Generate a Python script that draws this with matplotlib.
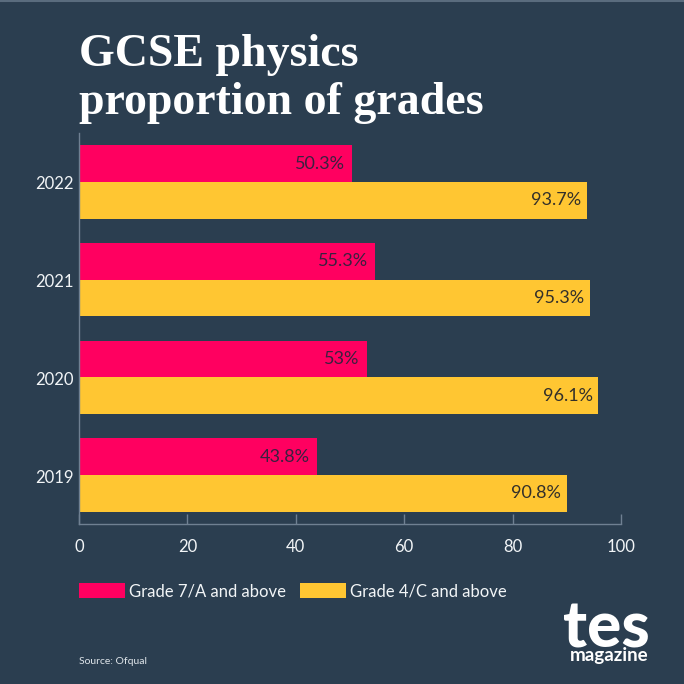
import matplotlib
matplotlib.use('Agg')
import matplotlib.pyplot as plt
from matplotlib.transforms import ScaledTranslation
import numpy as np

# Values (bar lengths differ slightly from printed labels)
years = ['2019', '2020', '2021', '2022']
grade_7a = [43.9, 53.1, 54.6, 50.4]
grade_4c = [90.0, 95.8, 94.3, 93.7]
labels_7a = ['43.8%', '53%', '55.3%', '50.3%']
labels_4c = ['90.8%', '96.1%', '95.3%', '93.7%']
xticks = [0, 20, 40, 60, 80, 100]

bg = '#2b3e50'
pink = '#ff0060'
yellow = '#ffc632'
axis_col = '#6f8092'
dark = '#3a2040'

plt.rcParams['font.family'] = 'Lato'

fig = plt.figure(figsize=(6.84, 6.84), dpi=100, facecolor=bg)
W = H = 684
# axes box in pixels: x 79-621, y 133-524
ax = fig.add_axes([79 / W, 1 - 524 / H, (621 - 79) / W, (524 - 133) / H], facecolor=bg)

y = np.arange(len(years))
h = 0.375
bars_a = ax.barh(y + h / 2, grade_7a, h, color=pink, label='Grade 7/A and above')
bars_c = ax.barh(y - h / 2, grade_4c, h, color=yellow, label='Grade 4/C and above')

for bar, txt in zip(bars_a, labels_7a):
    ax.annotate(txt, (bar.get_width(), bar.get_y() + bar.get_height() / 2), xytext=(-5, 0),
                textcoords='offset points', ha='right', va='center', fontsize=13, color=dark)
for bar, txt in zip(bars_c, labels_4c):
    ax.annotate(txt, (bar.get_width(), bar.get_y() + bar.get_height() / 2), xytext=(-4, 0),
                textcoords='offset points', ha='right', va='center', fontsize=13, color='#33302a')

ax.set_xlim(0, 100)
ax.set_ylim(-0.5, 3.5)
ax.set_yticks(y)
ax.set_yticklabels(years)
ax.set_xticks(xticks)
ax.tick_params(axis='x', direction='in', length=7.5, width=1, color=axis_col, labelcolor='#f2f5f7',
               labelsize=12, pad=11)
ax.tick_params(axis='y', length=0, labelcolor='#f2f5f7', labelsize=12, pad=4)
# year labels sit a little below the band centre
for lab in ax.get_yticklabels():
    lab.set_transform(lab.get_transform() + ScaledTranslation(0, -1 / 100, fig.dpi_scale_trans))
for side in ['top', 'right']:
    ax.spines[side].set_visible(False)
for side in ['left', 'bottom']:
    ax.spines[side].set_color(axis_col)
    ax.spines[side].set_linewidth(1)

handles, names = ax.get_legend_handles_labels()
fig.legend(handles, names, loc='center left', bbox_to_anchor=(79 / W, 1 - 591 / H), ncol=2, frameon=False,
           fontsize=12, labelcolor='#f2f5f7', handlelength=2.76, handleheight=1.0, handletextpad=0.25,
           columnspacing=0.8, borderpad=0, borderaxespad=0)

# Title
fig.text(79 / W, 1 - 66 / H, 'GCSE physics', fontsize=33, fontweight='bold', family='Liberation Serif',
         color='white', va='baseline', ha='left')
fig.text(79 / W, 1 - 114 / H, 'proportion of grades', fontsize=33, fontweight='bold', family='Liberation Serif',
         color='white', va='baseline', ha='left')

fig.text(79 / W, 1 - 664 / H, 'Source: Ofqual', fontsize=7.5, color='#dfe5ea', va='baseline', ha='left')

# Logo wordmark
fig.text(606.5 / W, 1 - 647 / H, 'tes', fontsize=46, fontweight='black', color='white', va='baseline', ha='center',
         family='Lato')
fig.text(609 / W, 1 - 661 / H, 'magazine', fontsize=13.5, fontweight='bold', color='white', va='baseline', ha='center',
         family='Lato')

# thin light line along the top edge
fig.add_artist(plt.Line2D([0, 1], [0.999, 0.999], color='#5a6c7e', lw=1.5))

fig.savefig('out.png', dpi=100, facecolor=bg)
